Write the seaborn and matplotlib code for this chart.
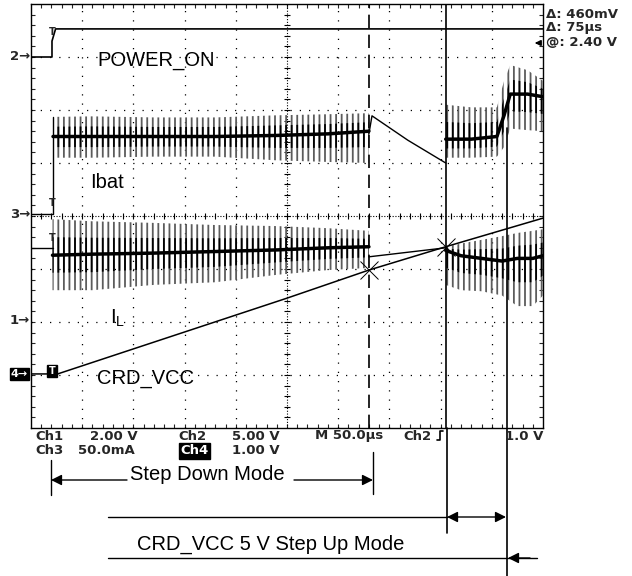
import matplotlib
matplotlib.use('Agg')
import matplotlib.pyplot as plt
import seaborn as sns
import numpy as np

# ---- trace data: time in us (50 us/div), amplitude in screen divisions (0..8) ----
pon_t = [0, 20.5, 20.5, 24, 500]
pon_v = [7.0, 7.0, 7.3, 7.53, 7.53]

# Ibat (Ch3)
ibat_base_t = [0, 21.5, 21.5]
ibat_base_v = [4.04, 4.04, 5.87]
ibat1_t = [21.5, 60, 120, 180, 240, 290, 330]
ibat1_hi = [5.87, 5.88, 5.86, 5.86, 5.9, 5.92, 5.94]
ibat1_lo = [5.1, 5.1, 5.12, 5.12, 5.05, 5.02, 5.0]
ibat1_mid = [5.5, 5.5, 5.5, 5.5, 5.52, 5.55, 5.6]
ibat_ramp_t = [330, 333, 368, 405]
ibat_ramp_v = [5.55, 5.89, 5.43, 5.0]
ibat2_t = [405, 430, 455, 462, 468, 485, 500]
ibat2_hi = [6.1, 6.05, 6.05, 6.55, 6.85, 6.75, 6.55]
ibat2_lo = [5.1, 5.1, 5.12, 5.3, 5.65, 5.62, 5.6]
ibat2_mid = [5.45, 5.45, 5.5, 5.9, 6.3, 6.3, 6.25]

# IL (Ch1)
il_base_t = [0, 21]
il_base_v = [3.40, 3.40]
il1_t = [21, 60, 120, 180, 240, 290, 330]
il1_hi = [3.94, 3.9, 3.87, 3.83, 3.81, 3.77, 3.72]
il1_lo = [2.6, 2.6, 2.7, 2.75, 2.89, 2.98, 3.02]
il1_mid = [3.26, 3.28, 3.3, 3.33, 3.36, 3.4, 3.42]
il_ramp_t = [330, 405]
il_ramp_v = [3.23, 3.40]
il2_t = [405, 420, 440, 460, 475, 490, 500]
il2_hi = [3.42, 3.48, 3.55, 3.62, 3.68, 3.72, 3.75]
il2_lo = [2.7, 2.6, 2.58, 2.5, 2.3, 2.3, 2.5]
il2_mid = [3.35, 3.25, 3.2, 3.15, 3.2, 3.2, 3.25]

# CRD_VCC (Ch4)
vcc_t = [0, 26, 250, 330, 405, 500]
vcc_v = [1.02, 1.02, 2.45, 2.98, 3.42, 3.96]

# cursors
cursor_t = [330, 405]
cursor_v = [2.98, 3.42]

status_row1 = [('Ch1', 35), ('2.00 V', 90), ('Ch2', 178), ('5.00 V', 232),
               ('M 50.0\u00b5s', 315), ('Ch2', 403), ('1.0 V', 505)]
status_row2 = [('Ch3', 35), ('50.0mA', 78), ('1.00 V', 232)]
readout = ['\u0394: 460mV', '\u0394: 75\u00b5s', '@: 2.40 V']

sns.set_style('white')
plt.rcParams['font.family'] = ['Liberation Sans', 'DejaVu Sans']
plt.rcParams['hatch.linewidth'] = 1.3

fig = plt.figure(figsize=(6.32, 5.76), dpi=100)
W, H = 632, 576
L, R, T, B = 31, 543, 4, 428
ax = fig.add_axes([L / W, 1 - B / H, (R - L) / W, (B - T) / H])
ax.set_xlim(0, 500)
ax.set_ylim(0, 8)

# graticule
for i in range(1, 10):
    if i != 5:
        ax.axvline(50 * i, color='black', lw=0.9, ls=(0, (1, 6.4)), zorder=1)
for j in range(1, 8):
    if j != 4:
        ax.axhline(j, color='black', lw=0.9, ls=(0, (1, 6.4)), zorder=1)
ax.axvline(250, color='black', lw=0.8, ls=(0, (1, 1.5)), zorder=1)
ax.axhline(4, color='black', lw=0.8, ls=(0, (1, 1.5)), zorder=1)
minor_x = np.arange(10, 500, 10)
minor_y = np.arange(0.2, 8, 0.2)
ax.plot(minor_x, np.full(minor_x.shape, 4.0), ls='none', marker='|', ms=5, mew=0.8, color='black')
ax.plot(np.full(minor_y.shape, 250.0), minor_y, ls='none', marker='_', ms=5, mew=0.8, color='black')
ax.set_xticks(minor_x)
ax.set_yticks(minor_y)
ax.tick_params(direction='in', length=3, width=0.8, top=True, right=True, bottom=True, left=True,
               labelbottom=False, labelleft=False)
for s in ax.spines.values():
    s.set_color('black')
    s.set_linewidth(1.0)


def band(t, lo, hi, mid):
    t, lo, hi, mid = map(np.asarray, (t, lo, hi, mid))
    ax.fill_between(t, lo, hi, facecolor='none', edgecolor='#5c5c5c', hatch='|||', linewidth=0, zorder=3)
    # darker core where the switching ripple overlaps (same hatch grid, so lines line up)
    ax.fill_between(t, mid - 0.5 * (mid - lo), mid + 0.5 * (hi - mid), facecolor='none',
                    edgecolor='black', hatch='|||', linewidth=0, zorder=3)
    sns.lineplot(x=t, y=mid, ax=ax, color='black', lw=2.5, estimator=None, sort=False, zorder=4)


def trace(t, v, lw=1.0):
    sns.lineplot(x=t, y=v, ax=ax, color='black', lw=lw, estimator=None, sort=False, zorder=5)


trace(pon_t, pon_v, 1.2)
trace(ibat_base_t, ibat_base_v)
band(ibat1_t, ibat1_lo, ibat1_hi, ibat1_mid)
trace(ibat_ramp_t, ibat_ramp_v)
band(ibat2_t, ibat2_lo, ibat2_hi, ibat2_mid)
trace(il_base_t, il_base_v)
band(il1_t, il1_lo, il1_hi, il1_mid)
trace(il_ramp_t, il_ramp_v)
band(il2_t, il2_lo, il2_hi, il2_mid)
trace(vcc_t, vcc_v, 1.1)

ax.axvline(cursor_t[0], color='black', lw=1.2, ls=(0, (8, 4)), zorder=6)
ax.axvline(cursor_t[1], color='black', lw=1.2, zorder=6)
ax.plot(cursor_t, cursor_v, ls='none', marker='x', ms=13, mew=0.7, color='black', zorder=7)

# ---- overlay in pixel coordinates ----
ov = fig.add_axes([0, 0, 1, 1], facecolor='none')
ov.set_xlim(0, W)
ov.set_ylim(H, 0)
ov.axis('off')

lab = dict(fontsize=14.5, color='black', va='center', ha='left')
ov.text(97, 60, 'POWER_ON', **lab)
ov.text(90, 183, 'Ibat', **lab)
ov.text(110, 318, 'I$_\\mathregular{L}$', **lab)
ov.text(97, 378, 'CRD_VCC', **lab)

mk = dict(fontsize=9.5, fontweight='bold', family='DejaVu Sans', va='center', ha='right')
ov.text(30, 57, '2\u2192', **mk)
ov.text(30, 214, '3\u2192', **mk)
ov.text(30, 321, '1\u2192', **mk)
ov.text(28, 374, '4\u2192', color='white', fontsize=8, fontweight='bold', family='DejaVu Sans',
        va='center', ha='right', bbox=dict(boxstyle='square,pad=0.1', fc='black', ec='black'))
for (x, y) in [(52, 32), (52, 203), (52, 238)]:
    ov.text(x, y, 'T', fontsize=7, fontweight='bold', family='DejaVu Sans', ha='center', va='center')
ov.text(52, 371, 'T', color='white', fontsize=7, fontweight='bold', family='DejaVu Sans',
        ha='center', va='center', bbox=dict(boxstyle='square,pad=0.15', fc='black', ec='black'))

st = dict(fontsize=9.5, fontweight='bold', family='DejaVu Sans', va='center', ha='left')
for txt, x in status_row1:
    ov.text(x, 436, txt, **st)
for txt, x in status_row2:
    ov.text(x, 451, txt, **st)
ov.text(180, 451, 'Ch4', color='white', bbox=dict(boxstyle='square,pad=0.1', fc='black', ec='black'), **st)
ov.plot([437, 440, 440, 443], [440, 440, 431, 431], color='black', lw=1.2)

for k, txt in enumerate(readout):
    ov.text(546, 14 + 14 * k, txt, **st)
ov.annotate('', xy=(532, 43), xytext=(541, 43),
            arrowprops=dict(arrowstyle='-|>', color='black', lw=1.2, mutation_scale=8))

# Step Down Mode
ov.plot([51, 51], [460, 495], color='black', lw=1)
ov.plot([373, 373], [452, 494], color='black', lw=1)
ov.text(130, 475, 'Step Down Mode', **lab)
ov.annotate('', xy=(51, 480), xytext=(127, 480),
            arrowprops=dict(arrowstyle='-|>', color='black', lw=1, mutation_scale=16, shrinkA=0, shrinkB=0))
ov.annotate('', xy=(373, 480), xytext=(294, 480),
            arrowprops=dict(arrowstyle='-|>', color='black', lw=1, mutation_scale=16, shrinkA=0, shrinkB=0))

# Step Up Mode
ov.plot([447, 447], [B, 533], color='black', lw=1.2)
ov.plot([507, 507], [128, 576], color='black', lw=1.2)
ov.plot([108, 447], [517, 517], color='black', lw=1)
ov.annotate('', xy=(447, 517), xytext=(506, 517),
            arrowprops=dict(arrowstyle='<|-|>', color='black', lw=1, mutation_scale=16, shrinkA=0, shrinkB=0))
ov.text(137, 544, 'CRD_VCC 5 V Step Up Mode', **lab)
ov.plot([108, 537], [558, 558], color='black', lw=1)
ov.annotate('', xy=(508, 558), xytext=(530, 558),
            arrowprops=dict(arrowstyle='-|>', color='black', lw=1, mutation_scale=16, shrinkA=0, shrinkB=0))

fig.savefig('out.png', dpi=100, facecolor='white')
